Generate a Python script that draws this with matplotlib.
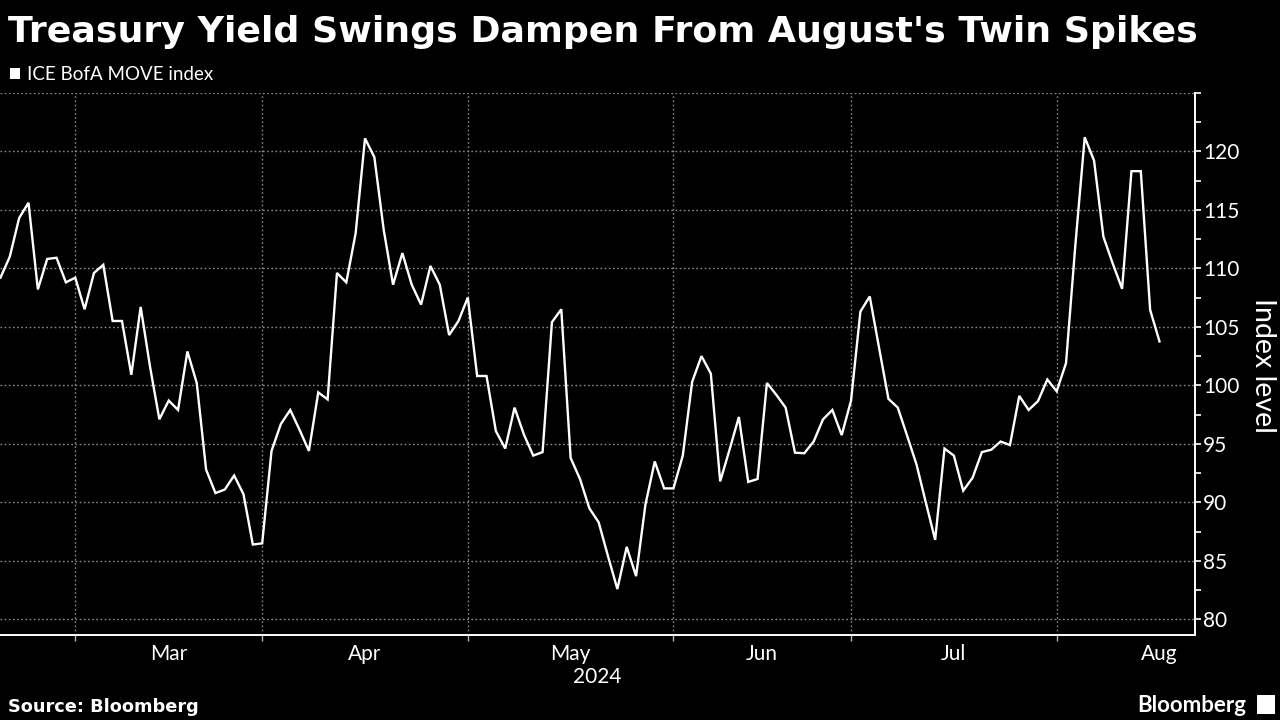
import numpy as np
import pandas as pd
import matplotlib
matplotlib.use("Agg")
import matplotlib.pyplot as plt
from matplotlib.patches import Rectangle
from matplotlib.ticker import FixedLocator, NullFormatter

# ICE BofA MOVE index, daily closes (trading days from 2024-02-20)
start_date = "2024-02-20"
holidays = ["2024-03-29", "2024-05-27", "2024-06-19", "2024-07-04", "2024-09-02"]
move_index = [
    109.2, 111.0, 114.3, 115.6, 108.2, 110.8, 110.9, 108.8, 109.2, 106.5,
    109.6, 110.3, 105.5, 105.5, 100.9, 106.7, 101.6, 97.1, 98.7, 97.9,
    102.9, 100.2, 92.8, 90.8, 91.1, 92.3, 90.7, 86.4, 86.5, 94.4,
    96.7, 97.9, 96.2, 94.4, 99.4, 98.8, 109.6, 108.8, 113.0, 121.1,
    119.5, 113.3, 108.6, 111.3, 108.6, 106.9, 110.2, 108.6, 104.3, 105.5,
    107.5, 100.8, 100.8, 96.1, 94.6, 98.1, 95.8, 94.0, 94.3, 105.4,
    106.5, 93.8, 92.0, 89.5, 88.3, 85.4, 82.6, 86.2, 83.7, 89.8,
    93.5, 91.2, 91.2, 94.0, 100.3, 102.5, 101.0, 91.8, 94.5, 97.3,
    91.75, 92.0, 100.2, 99.2, 98.1, 94.25, 94.2, 95.2, 97.1, 97.9,
    95.75, 98.7, 106.3, 107.6, 103.2, 98.85, 98.1, 95.7, 93.25, 90.0,
    86.8, 94.6, 94.0, 91.0, 92.1, 94.3, 94.5, 95.2, 94.9, 99.1,
    97.9, 98.65, 100.5, 99.5, 101.9, 112.0, 121.2, 119.2, 112.7, 110.4,
    108.25, 118.3, 118.3, 106.45, 103.75,
]
month_labels = ["Mar", "Apr", "May", "Jun", "Jul", "Aug"]
month_starts = ["2024-03-01", "2024-04-01", "2024-05-01", "2024-06-01",
                "2024-07-01", "2024-08-01", "2024-09-01"]
y_ticks = [80, 85, 90, 95, 100, 105, 110, 115, 120, 125]

# trading-day calendar; x is the trading-day number
days = pd.bdate_range(start_date, "2024-09-30", freq="C", holidays=holidays)
x = np.arange(len(move_index))
bounds = days.searchsorted(pd.to_datetime(month_starts))
mids = (bounds[:-1] + bounds[1:]) / 2

plt.rcParams["font.family"] = ["Lato", "DejaVu Sans"]

fig = plt.figure(figsize=(12.8, 7.2), dpi=100, facecolor="black")
ax = fig.add_axes([0.0, 0.1185, 0.9336, 0.7527], facecolor="black")

ax.plot(x, move_index, color="white", lw=1.7, solid_joinstyle="miter")

ax.set_xlim(-0.05, 127.8)
ax.set_ylim(78.7, 125)

# x axis: ticks at month boundaries, labels centred in each month
ax.xaxis.set_major_locator(FixedLocator(bounds[:-1]))
ax.xaxis.set_major_formatter(NullFormatter())
ax.xaxis.set_minor_locator(FixedLocator(mids))
ax.set_xticklabels(month_labels, minor=True)
ax.tick_params(axis="x", which="major", length=4, width=1, color="#bbbbbb",
               direction="out")
ax.tick_params(axis="x", which="minor", length=0, pad=7, labelsize=15,
               labelcolor="white")

# y axis on the right
ax.yaxis.tick_right()
ax.set_yticks(y_ticks)
ax.set_yticklabels([str(v) for v in y_ticks[:-1]] + [""])
ax.yaxis.set_minor_locator(FixedLocator([v + 2.5 for v in y_ticks[:-1]]))
ax.tick_params(axis="y", which="both", length=4, width=1.2, color="white",
               direction="out", pad=2, labelsize=15, labelcolor="white")

for side in ["left", "top"]:
    ax.spines[side].set_visible(False)
for side in ["right", "bottom"]:
    ax.spines[side].set_color("white")
    ax.spines[side].set_linewidth(1.4)

ax.grid(True, which="major", color="#8a8a8a", linestyle=(0, (1.2, 1.8)),
        linewidth=1.0)
ax.set_axisbelow(True)

ax.text(0.5, -0.078, "2024", transform=ax.transAxes, ha="center",
        va="center", color="white", fontsize=15)

# axis title on the right, reading downwards
fig.text(1263 / 1280, 1 - 365 / 720, "Index level", rotation=270,
         rotation_mode="anchor", ha="center", va="center", color="white",
         fontsize=20.5)

# title, fitted to the reference width
title = fig.text(8 / 1280, 1 - 42 / 720,
                 "Treasury Yield Swings Dampen From August's Twin Spikes",
                 color="white", fontsize=25, fontweight="bold",
                 family="DejaVu Sans", va="baseline", ha="left")
fig.canvas.draw()
w = title.get_window_extent().width
title.set_fontsize(25 * 1192 / w)

# legend
fig.patches.append(Rectangle((10 / 1280, 1 - 79 / 720), 10 / 1280, 11 / 720,
                             transform=fig.transFigure, facecolor="white",
                             edgecolor="none"))
fig.text(27 / 1280, 1 - 80 / 720, "ICE BofA MOVE index", color="white",
         fontsize=13.5, va="baseline", ha="left")

fig.text(8 / 1280, 1 - 712 / 720, "Source: Bloomberg", color="white",
         fontsize=12.8, fontweight="bold", family="DejaVu Sans",
         va="baseline", ha="left")
fig.text(1246 / 1280, 1 - 712 / 720, "Bloomberg", color="white",
         fontsize=16, fontweight="bold", va="baseline", ha="right")
fig.patches.append(Rectangle((1257 / 1280, 1 - 714 / 720), 18 / 1280,
                             19 / 720, transform=fig.transFigure,
                             facecolor="white", edgecolor="none"))

fig.savefig("out.png", dpi=100, facecolor="black")
